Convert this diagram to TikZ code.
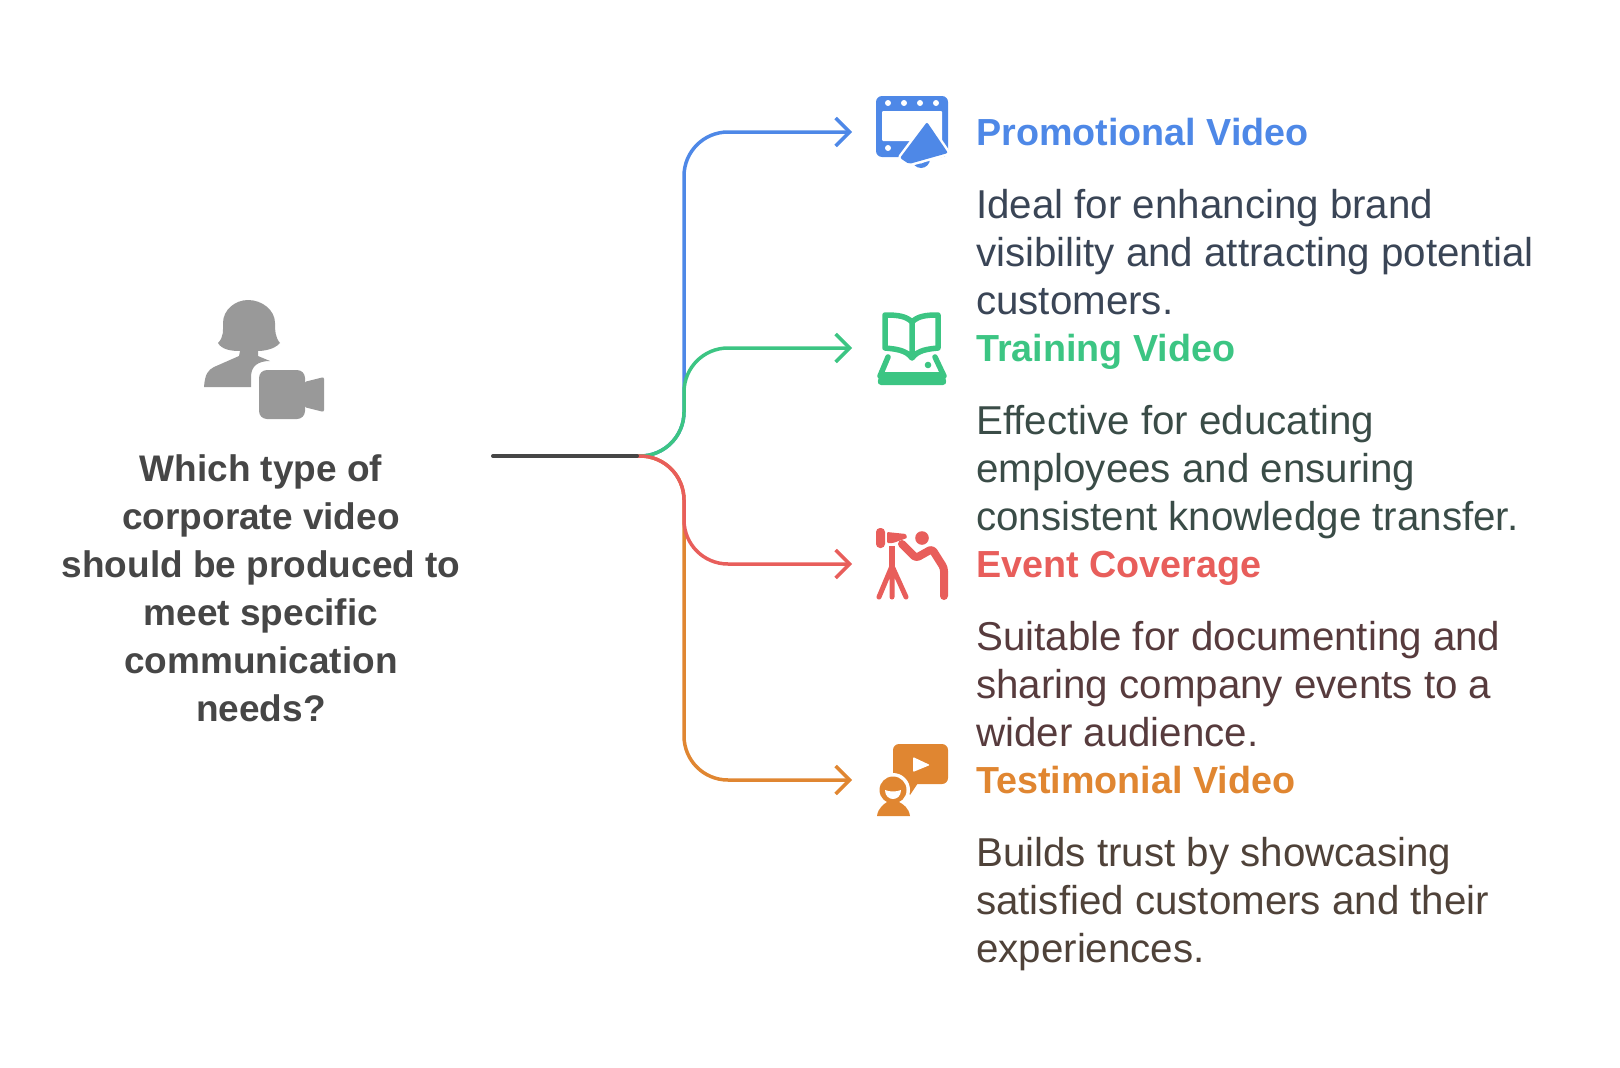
\documentclass[tikz,border=0pt]{standalone}
\usepackage{fontspec}
\setmainfont{Liberation Sans}
\usepackage{xcolor}
\usetikzlibrary{positioning,arrows.meta,calc}

\definecolor{promoblue}{HTML}{4E88E7}
\definecolor{trainggreen}{HTML}{3CC583}
\definecolor{eventred}{HTML}{E85E5B}
\definecolor{testiorange}{HTML}{E08631}
\definecolor{icongray}{HTML}{999999}
\definecolor{stemgray}{HTML}{464646}
\definecolor{promotext}{HTML}{3A4556}
\definecolor{traintext}{HTML}{3A4C47}
\definecolor{eventtext}{HTML}{573B3D}
\definecolor{testitext}{HTML}{4F4239}

\begin{document}
\begin{tikzpicture}[
  x=1pt, y=-1pt,
  iconbox/.style={minimum width=74pt, minimum height=74pt, inner sep=0pt, outer sep=0pt},
  head/.style={anchor=west, inner sep=0pt, text height=27pt, text depth=1pt, font=\fontsize{37.7}{48}\selectfont\bfseries},
  desc/.style={anchor=north west, align=left, inner sep=0pt, font=\fontsize{40.3}{48}\selectfont},
  ask/.style={align=center, inner sep=0pt, text=stemgray, font=\fontsize{37}{48}\selectfont\bfseries},
  arr/.style={-{Straight Barb[length=14pt,width=28pt,line width=3.5pt]}, line width=3.5pt, rounded corners=44pt, shorten >=24pt}
]
\useasboundingbox (0,0) rectangle (1620,1068);

% left question
\fill[icongray] (218,343) .. controls (224,337) and (223,330) .. (223,323)
  .. controls (223,310) and (235,300) .. (248,300) .. controls (262,300) and (275,310) .. (275,323)
  .. controls (275,330) and (275,337) .. (280,343) .. controls (274,350) and (262,351) .. (258,351)
  -- (258,356) -- (270,361) .. controls (258,361) and (251,366) .. (251,377) -- (251,387) -- (204,387)
  .. controls (205,374) and (208,370) .. (214,367) -- (239,356) -- (240,351)
  .. controls (232,351) and (222,350) .. (218,343) -- cycle;
\fill[icongray, rounded corners=8pt] (259,370) rectangle (305,419);
\fill[icongray, rounded corners=2pt] (304,382) -- (324,377) -- (324,412) -- (304,407) -- cycle;
\node[ask] (question) at (261,588) {Which type of\\corporate video\\should be produced to\\meet specific\\communication\\needs?};

% icons
\node[iconbox] (promoicon) at (913,132) {};
\node[iconbox] (trainicon) at (913,348) {};
\node[iconbox] (eventicon) at (913,564) {};
\node[iconbox] (testiicon) at (913,780) {};

\fill[promoblue, rounded corners=6pt] (876,96) rectangle (948,157);
\fill[white, rounded corners=1pt] (882,111) rectangle (942,141);
\foreach \px in {888,904,920,936} \fill[white] (\px,103) circle (3pt);
\fill[white] (888,148) circle (3pt);
\fill[promoblue] (921,159) circle (9pt);
\fill[white] (921,160) circle (3.5pt);
\draw[white, line width=5pt, fill=promoblue, rounded corners=2pt, line join=round]
  (927,122) -- (948,153) -- (909,164) -- (900,158) -- cycle;
\fill[promoblue, rounded corners=2pt] (927,122) -- (948,153) -- (909,164) -- (900,158) -- cycle;

\draw[trainggreen, line width=5.5pt, line join=round, line cap=round]
  (912,358) .. controls (906,350) and (896,349) .. (885,348) -- (885,315)
  .. controls (898,315) and (906,316) .. (912,322) .. controls (918,316) and (926,315) .. (938,315)
  -- (938,348) .. controls (928,349) and (918,350) .. (912,358) -- cycle (912,322) -- (912,356);
\draw[trainggreen, line width=5.5pt, line cap=round] (888,357) -- (880,376) (935,357) -- (944,376);
\fill[trainggreen, rounded corners=4pt] (880,372) -- (944,372) -- (947,385) -- (877,385) -- cycle;
\fill[trainggreen] (928,365) circle (3.3pt);

\fill[eventred, rounded corners=4pt] (876,528) rectangle (885,548);
\fill[eventred, rounded corners=1pt] (887,532) -- (906,534) -- (907,538) -- (893,543) -- (887,543) -- cycle;
\draw[eventred, line width=6pt] (892,546) -- (892,570);
\draw[eventred, line width=5pt, line cap=round] (892,566) -- (879,597) (892,566) -- (892,597) (892,566) -- (906,597);
\fill[eventred] (922,538) circle (6.8pt);
\draw[eventred, line width=8pt, line cap=round, line join=round, rounded corners=3pt]
  (902,544) -- (916,558) -- (932,549) -- (944,568) -- (944,596);

\fill[testiorange, rounded corners=6pt] (893,744) rectangle (948,784);
\fill[testiorange] (900,780) -- (910,795) -- (920,780) -- cycle;
\fill[white, rounded corners=1pt] (913,757) -- (930,765) -- (913,772) -- cycle;
\fill[white] (893,790) circle (17pt);
\fill[testiorange] (893,790) circle (13.5pt);
\fill[white] (885,790) .. controls (890,792) and (896,792) .. (901,790) .. controls (901,802) and (885,802) .. (885,790) -- cycle;
\fill[testiorange] (877,816) .. controls (878,808) and (884,804) .. (887,802) -- (899,802)
  .. controls (903,804) and (909,808) .. (910,816) -- cycle;

% texts
\node[head, text=promoblue, right=26pt of promoicon] (promohead) {Promotional Video};
\node[desc, text=promotext, below=57pt of promohead.west, anchor=north west] (promodesc)
  {Ideal for enhancing brand\\visibility and attracting potential\\customers.};
\node[head, text=trainggreen, right=26pt of trainicon] (trainhead) {Training Video};
\node[desc, text=traintext, below=57pt of trainhead.west, anchor=north west] (traindesc)
  {Effective for educating\\employees and ensuring\\consistent knowledge transfer.};
\node[head, text=eventred, right=26pt of eventicon] (eventhead) {Event Coverage};
\node[desc, text=eventtext, below=57pt of eventhead.west, anchor=north west] (eventdesc)
  {Suitable for documenting and\\sharing company events to a\\wider audience.};
\node[head, text=testiorange, right=26pt of testiicon] (testihead) {Testimonial Video};
\node[desc, text=testitext, below=57pt of testihead.west, anchor=north west] (testidesc)
  {Builds trust by showcasing\\satisfied customers and their\\experiences.};

% connectors
\coordinate (stem) at (493,456);
\coordinate (split) at (637,456);
\draw[arr, promoblue] (split) -| ($(promoicon.west)+(-192,0)$) -- (promoicon.west);
\draw[arr, testiorange] (split) -| ($(testiicon.west)+(-192,0)$) -- (testiicon.west);
\draw[arr, trainggreen] (split) -| ($(trainicon.west)+(-192,0)$) -- (trainicon.west);
\draw[arr, eventred] (split) -| ($(eventicon.west)+(-192,0)$) -- (eventicon.west);
\draw[stemgray, line width=4pt, line cap=round] (stem) -- (split);
\end{tikzpicture}
\end{document}
